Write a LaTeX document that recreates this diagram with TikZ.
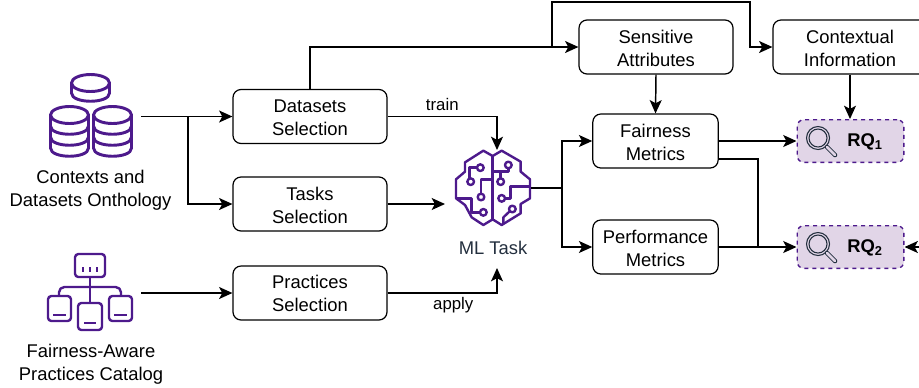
\documentclass[tikz,border=0pt]{standalone}
\usepackage{fontspec}
\setmainfont{Liberation Sans}
\usetikzlibrary{arrows.meta}
\definecolor{mpurple}{HTML}{4D1A8C}
\definecolor{mlilac}{HTML}{E1D5E7}
\definecolor{mslate}{HTML}{232F3E}
\tikzset{
  procbox/.style = {draw, rounded corners = 6, line width = 0.9pt, minimum height = 40.5pt, align = center, inner sep = 0, text height = 28.5pt, text depth = 0pt, font = \fontsize{13.8}{17.2}\selectfont},
  rqbox/.style = {draw = mpurple, fill = mlilac, dashed, rounded corners = 5, line width = 1pt, minimum width = 80pt, minimum height = 32pt},
  iconbox/.style = {inner sep = 0},
  lbl/.style = {align = center, inner sep = 0, font = \fontsize{13.8}{17.2}\selectfont},
  smalllbl/.style = {inner sep = 0, font = \fontsize{12.6}{15}\selectfont},
  edge/.style = {line width = 1.1pt, -{Stealth[length = 10pt, width = 9pt, inset = 2.4pt]}},
  plain/.style = {line width = 1.1pt},
  icon/.style = {draw = mpurple, line width = 1.8pt, line join = round},
  dbicon/.style = {draw = mpurple, line width = 2.2pt, line join = round},
}
\newcommand{\cylinder}[3]{
  \draw [dbicon, fill = white] (#1, #2) ellipse [x radius = 19 * 0.75pt, y radius = 8.5 * 0.75pt];
  \draw [dbicon] (#1 - 19, #2) -- (#1 - 19, #2 + #3) .. controls (#1 - 19, #2 + #3 + 11) and (#1 + 19, #2 + #3 + 11) .. (#1 + 19, #2 + #3) -- (#1 + 19, #2);
}
\newcommand{\lens}[2]{
  \draw [mslate, line width = 0.8pt] (#1, #2) circle [radius = 11.5 * 0.75pt];
  \draw [mslate, line width = 0.8pt] (#1, #2) circle [radius = 9 * 0.75pt];
  \draw [mslate, line width = 3.4pt, line cap = round] (#1 + 9, #2 + 9) -- (#1 + 17, #2 + 17);
  \draw [mlilac, line width = 2pt, line cap = round] (#1 + 9, #2 + 9) -- (#1 + 17, #2 + 17);
}
\begin{document}
\begin{tikzpicture}[x = 0.75pt, y = -0.75pt]
  \useasboundingbox (0, 0) rectangle (919, 387);

  % boxes
  \node [procbox, minimum width = 115.5pt] (datasets) at (310, 116.5) {Datasets\\Selection};
  \node [procbox, minimum width = 115.5pt] (tasks) at (310, 204) {Tasks\\Selection};
  \node [procbox, minimum width = 115.5pt, text height = 27pt] (practices) at (310, 293) {Practices\\Selection};
  \node [procbox, minimum width = 115.5pt] (sensitive) at (656, 47) {Sensitive\\Attributes};
  \node [procbox, minimum width = 115.5pt] (contextual) at (850, 47) {Contextual\\Information};
  \node [procbox, minimum width = 94pt] (fairness) at (655.5, 141) {Fairness\\Metrics};
  \node [procbox, minimum width = 94pt] (performance) at (655.5, 247) {Performance\\Metrics};
  \node [rqbox] (rqa) at (850.5, 141) {};
  \node [rqbox] (rqb) at (850.5, 247) {};
  \node [lbl, font = \fontsize{13.8}{14}\selectfont\bfseries] (rqatext) at (865, 142) {RQ\textsubscript{1}};
  \node [lbl, font = \fontsize{13.8}{14}\selectfont\bfseries] (rqbtext) at (865, 248) {RQ\textsubscript{2}};

  % icon placeholders
  \node [iconbox, minimum width = 70.5pt, minimum height = 67pt] (ontology) at (94, 116.5) {};
  \node [iconbox, minimum width = 70.5pt, minimum height = 60pt] (catalog) at (94, 293) {};
  \node [iconbox, minimum width = 57pt, minimum height = 57pt] (mltask) at (493, 188) {};
  \coordinate (mlin) at (497, 150);
  \coordinate (mlout) at (497, 268);
  \coordinate (mlleft) at (445, 204);
  \coordinate (rqin) at (919, 247);

  % captions
  \node [lbl] (ontologytext) at (90.5, 190) {Contexts and\\Datasets Onthology};
  \node [lbl] (catalogtext) at (91, 364) {Fairness-Aware\\Practices Catalog};
  \node [lbl, text = mslate] (mltext) at (493, 248) {ML Task};

  % database icon
  \cylinder{90.5}{83}{10}
  \cylinder{69.5}{115}{33}
  \cylinder{112.5}{115}{33}
  \foreach \x in {69.5, 112.5} {
    \foreach \y in {126, 137} {
      \draw [dbicon] (\x - 19, \y) .. controls (\x - 19, \y + 11) and (\x + 19, \y + 11) .. (\x + 19, \y);
    }
  }

  % catalog icon
  \draw [icon, rounded corners = 2.5] (75, 254) rectangle (105, 277);
  \draw [icon, rounded corners = 2.5] (48, 296) rectangle (71, 321);
  \draw [icon, rounded corners = 2.5] (78, 303) rectangle (102, 330);
  \draw [icon, rounded corners = 2.5] (109, 296) rectangle (132, 321);
  \draw [icon] (90, 277) -- (90, 303);
  \draw [icon, rounded corners = 4] (59, 296) -- (59, 287) -- (121, 287) -- (121, 296);
  \draw [icon] (53, 315) -- (66, 315);
  \draw [icon] (84, 323) -- (96, 323);
  \draw [icon] (114, 315) -- (127, 315);
  \foreach \x in {83, 90, 97} {
    \draw [icon] (\x, 267) -- (\x, 272);
  }

  % brain icon
  \begin{scope}[shift = {(420, 130)}, x = 0.25pt, y = -0.25pt]
    \draw [icon] (218, 78) -- (190, 62) -- (135, 97) -- (135, 125) -- (108, 148) -- (108, 205) -- (135, 225) -- (155, 262) -- (190, 285) -- (218, 268) -- (245, 285) -- (302, 250) -- (302, 222) -- (330, 205) -- (330, 148) -- (302, 125) -- (302, 95) -- (245, 62) -- cycle;
    \draw [icon] (218, 78) -- (218, 268);
    \draw [icon] (171, 113) -- (148, 113) -- (148, 145);
    \draw [icon] (218, 148) -- (183, 148) -- (183, 191);
    \draw [icon] (108, 205) -- (155, 205) -- (155, 247) -- (180, 247);
    \draw [icon] (218, 125) -- (265, 125) -- (265, 115);
    \draw [icon] (242, 125) -- (242, 145);
    \draw [icon] (255, 205) -- (272, 205) -- (272, 170) -- (330, 170);
    \draw [icon] (269, 244) -- (250, 262) -- (250, 282);
    \foreach \x/\y in {181/113, 152/155, 183/201, 190/247, 265/105, 242/155, 245/205, 277/237} {
      \draw [icon] (\x, \y) circle [radius = 2.5pt];
    }
  \end{scope}

  % lenses
  \lens{818}{138}
  \lens{818}{244}

  % connectors
  \draw [edge] (ontology.east) -- (datasets.west);
  \draw [edge] (ontology.east) -| (188, 204) -- (tasks.west);
  \draw [edge] (catalog.east) -- (practices.west);
  \draw [edge] (datasets.east) -| (mlin) node [pos = 0.25, above = 4pt, smalllbl] (trainlbl) {train};
  \draw [edge] (tasks.east) -- (mlleft);
  \draw [edge] (practices.east) -| (mlout) node [pos = 0.3, below = 3pt, smalllbl] (applylbl) {apply};
  \draw [edge] (datasets.north) |- (sensitive.west);
  \draw [edge] (552, 47) |- (750, 2) -- (750, 47) -- (contextual.west);
  \draw [edge] (sensitive.south) -- (fairness.north);
  \draw [edge] (contextual.south) -- (contextual.south |- rqa.north);
  \draw [edge] (mltask.east) -- (562, 188) |- (fairness.west);
  \draw [edge] (562, 188) |- (performance.west);
  \draw [edge] (fairness.east) -- (rqa.west);
  \draw [edge] (performance.east) -- (rqb.west);
  \draw [plain] (718, 159) -- (758, 159) -- (758, 247);
  \draw [edge] (rqin) -- (rqb.east);
\end{tikzpicture}
\end{document}
